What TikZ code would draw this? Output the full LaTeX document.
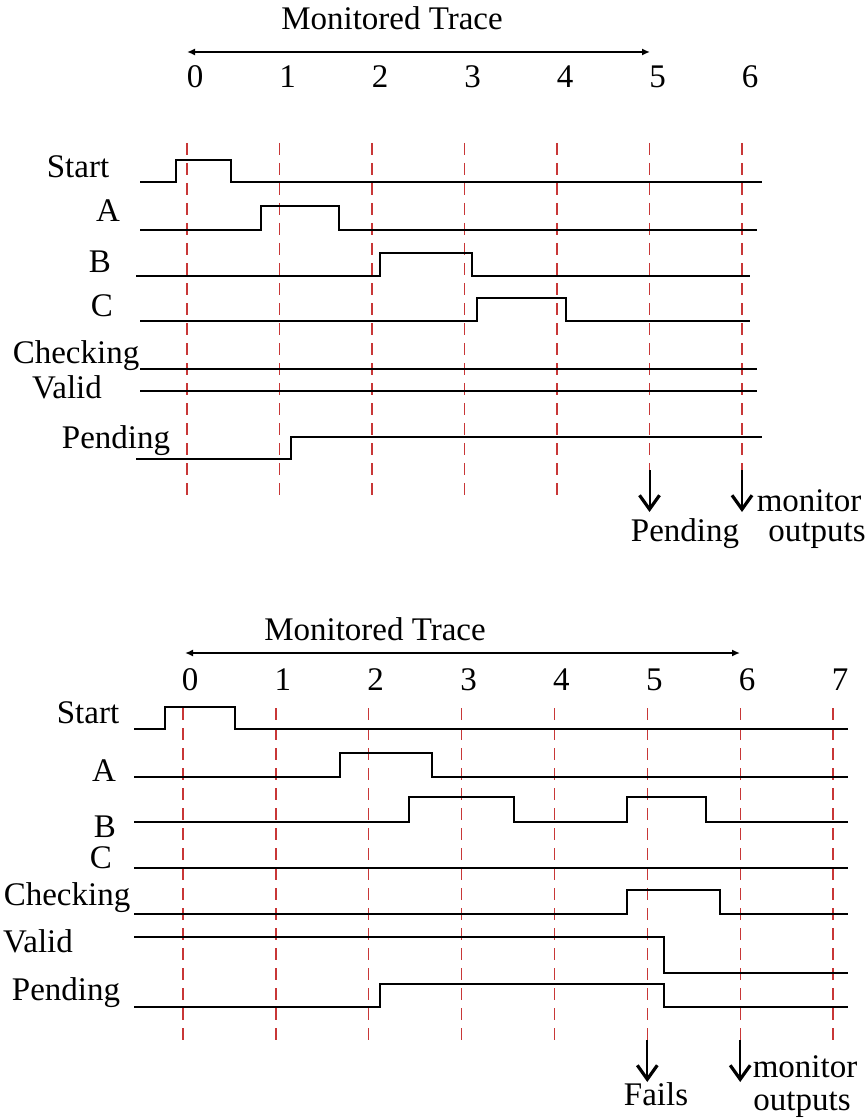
\documentclass[tikz,border=0pt]{standalone}
\usepackage{fontspec}
\setmainfont{Liberation Serif}
\usetikzlibrary{arrows.meta}
\definecolor{gridred}{RGB}{200,55,55}
\begin{document}
\begin{tikzpicture}[x=0.5pt,y=-0.5pt,
  sig/.style={line width=1.1pt, black},
  gridln/.style={draw=gridred, line width=0.7pt, dash pattern=on 6pt off 4pt},
  lbl/.style={font=\fontsize{16.5}{19}\selectfont, anchor=base, inner sep=0pt},
  outarrow/.style={line width=1pt, -{Straight Barb[length=7pt,width=10pt,line width=1.6pt]}},
  spanarrow/.style={line width=1pt, {Latex[length=4pt,width=3.5pt]}-{Latex[length=4pt,width=3.5pt]}}]
\useasboundingbox (0,0) rectangle (867,1118);
% ================= TOP DIAGRAM =================
\node[lbl] (t-title) at (392,30) {Monitored Trace};
\coordinate (t-s0) at (187,52);
\coordinate (t-s1) at (650,52);
\draw[spanarrow] (t-s0) -- (t-s1);
\foreach \i in {0,...,6} {
  \node[lbl] (t-n\i) at ({195+92.5*\i},88) {\i};
}
\foreach \i in {0,...,4} {
  \draw[gridln] ({187+92.5*\i},143) -- ({187+92.5*\i},495);
}
\draw[gridln] (649.5,143) -- (649.5,470);
\draw[gridln] (742,143) -- (742,470);
% labels
\node[lbl] (t-start) at (78,178) {Start};
\node[lbl] (t-a) at (108,221) {A};
\node[lbl] (t-b) at (100,272) {B};
\node[lbl] (t-c) at (102,316) {C};
\node[lbl] (t-chk) at (76,363) {Checking};
\node[lbl] (t-val) at (67,398) {Valid};
\node[lbl] (t-pend) at (116,448) {Pending};
% waveforms
\draw[sig] (140,182) -- (176,182) -- (176,160) -- (231,160) -- (231,182) -- (762,182);
\draw[sig] (140,230) -- (261,230) -- (261,206) -- (339,206) -- (339,230) -- (757,230);
\draw[sig] (136,276) -- (380,276) -- (380,253) -- (472,253) -- (472,276) -- (750,276);
\draw[sig] (140,321) -- (477,321) -- (477,298) -- (566,298) -- (566,321) -- (750,321);
\draw[sig] (140,369) -- (757,369);
\draw[sig] (140,391) -- (757,391);
\draw[sig] (136,459) -- (291,459) -- (291,437) -- (762,437);
% outputs
\coordinate (t-a5s) at (649.5,470);
\coordinate (t-a5e) at (649.5,512);
\coordinate (t-a6s) at (742,470);
\coordinate (t-a6e) at (742,512);
\draw[outarrow] (t-a5s) -- (t-a5e);
\draw[outarrow] (t-a6s) -- (t-a6e);
\node[lbl] (t-outp) at (685,541) {Pending};
\node[lbl] (t-mon) at (809,511) {monitor};
\node[lbl] (t-outs) at (817,541) {outputs};
% ================= BOTTOM DIAGRAM =================
\node[lbl] (b-title) at (375,640) {Monitored Trace};
\coordinate (b-s0) at (185,653);
\coordinate (b-s1) at (740,653);
\draw[spanarrow] (b-s0) -- (b-s1);
\foreach \i in {0,...,7} {
  \node[lbl] (b-n\i) at ({190+92.86*\i},690) {\i};
}
\foreach \i in {0,1,2,3,4,7} {
  \draw[gridln] ({183+92.86*\i},708) -- ({183+92.86*\i},1042);
}
\draw[gridln] (647.3,708) -- (647.3,1040);
\draw[gridln] (740.2,708) -- (740.2,1040);
% labels
\node[lbl] (b-start) at (88,723) {Start};
\node[lbl] (b-a) at (104,781) {A};
\node[lbl] (b-b) at (105,837) {B};
\node[lbl] (b-c) at (101,868) {C};
\node[lbl] (b-chk) at (67,905) {Checking};
\node[lbl] (b-val) at (38,952) {Valid};
\node[lbl] (b-pend) at (66,1000) {Pending};
% waveforms
\draw[sig] (134,729) -- (165,729) -- (165,707) -- (235,707) -- (235,729) -- (848,729);
\draw[sig] (134,777) -- (340,777) -- (340,753) -- (432,753) -- (432,777) -- (848,777);
\draw[sig] (134,822) -- (409,822) -- (409,797) -- (514,797) -- (514,822) -- (627,822) -- (627,797) -- (706,797) -- (706,822) -- (848,822);
\draw[sig] (134,868) -- (848,868);
\draw[sig] (134,914) -- (627,914) -- (627,890) -- (720,890) -- (720,914) -- (848,914);
\draw[sig] (134,937) -- (664,937) -- (664,973) -- (848,973);
\draw[sig] (134,1007) -- (380,1007) -- (380,984) -- (664,984) -- (664,1007) -- (848,1007);
% outputs
\coordinate (b-a5s) at (647.3,1040);
\coordinate (b-a5e) at (647.3,1082);
\coordinate (b-a6s) at (740.2,1040);
\coordinate (b-a6e) at (740.2,1082);
\draw[outarrow] (b-a5s) -- (b-a5e);
\draw[outarrow] (b-a6s) -- (b-a6e);
\node[lbl] (b-fails) at (656,1105) {Fails};
\node[lbl] (b-mon) at (805,1077) {monitor};
\node[lbl] (b-outs) at (802,1110) {outputs};
\end{tikzpicture}
\end{document}
